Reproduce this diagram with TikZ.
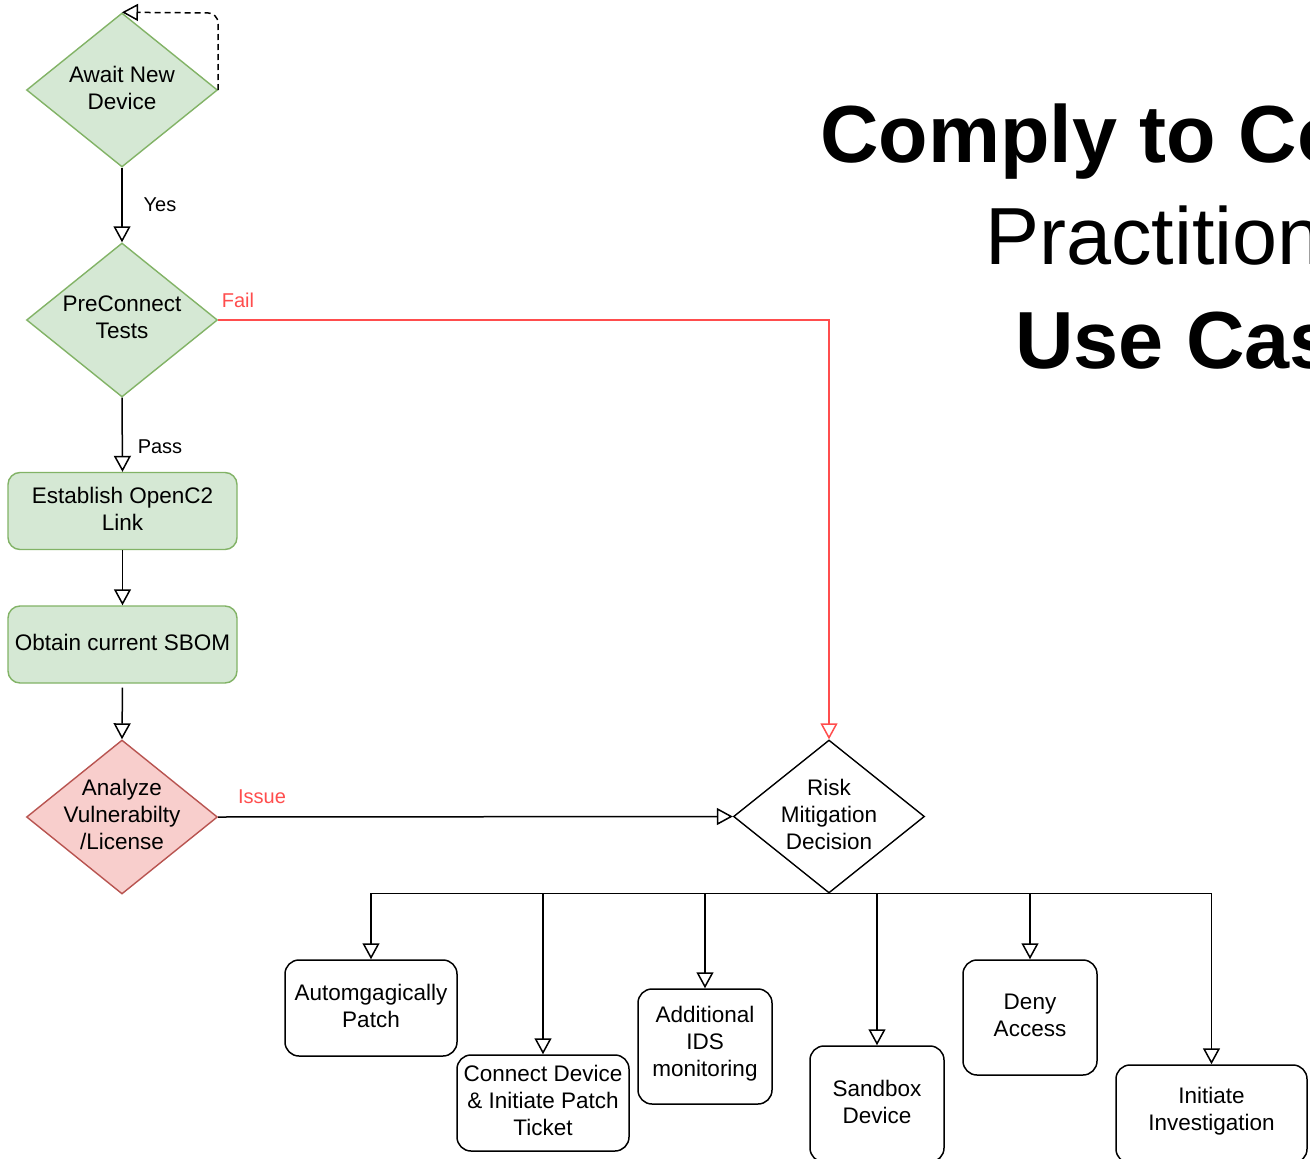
\documentclass[tikz,border=0pt]{standalone}
\usepackage{fontspec}
\setmainfont{Liberation Sans}
\usetikzlibrary{arrows.meta,shapes.geometric}
\definecolor{gfill}{HTML}{D5E8D4}
\definecolor{gline}{HTML}{82B366}
\definecolor{rfill}{HTML}{F8CECC}
\definecolor{rline}{HTML}{B85450}
\definecolor{failred}{HTML}{FF4D4D}
\tikzset{
  flow/.style={line width=1.5pt, -{Triangle[open,length=16pt,width=17pt]}},
  dia/.style={diamond, draw, line width=1.4pt, minimum width=191pt, minimum height=154pt, inner sep=0pt},
  greendia/.style={dia, fill=gfill, draw=gline},
  reddia/.style={dia, fill=rfill, draw=rline},
  greenbox/.style={rectangle, rounded corners=12pt, draw=gline, fill=gfill, line width=1.4pt, minimum width=229pt, minimum height=77pt},
  actbox/.style={rectangle, rounded corners=14pt, draw, line width=1.5pt, fill=white},
  txt/.style={align=center, font=\fontsize{22.5}{27}\selectfont, inner sep=0pt, yshift=2.5pt},
  lbl/.style={font=\fontsize{20}{24}\selectfont, inner sep=0pt},
}
\begin{document}
\begin{tikzpicture}[x=1pt, y=-1pt]
\useasboundingbox (0,0) rectangle (1310,1159);
\clip (0,0) rectangle (1310,1159);
\fill[white] (0,0) rectangle (1310,1159);

% title, running off the right-hand edge
\node[anchor=base west, inner sep=0pt, font=\fontsize{81}{81}\selectfont\bfseries] (t1) at (820,162) {Comply to Connect};
\node[anchor=base west, inner sep=0pt, font=\fontsize{81}{81}\selectfont] (t2) at (985,264) {Practitioner};
\node[anchor=base west, inner sep=0pt, font=\fontsize{81}{81}\selectfont\bfseries] (t3) at (1015,368) {Use Case};

% main line of the flow
\node[greendia] (aw) at (122,90) {};
\node[txt] at (aw) {Await New\\Device};
\node[greendia] (pc) at (122,320) {};
\node[txt] at (pc) {PreConnect\\Tests};
\node[greenbox] (ol) at (122.5,511) {};
\node[txt] at (ol) {Establish OpenC2\\Link};
\node[greenbox] (sb) at (122.5,644.5) {};
\node[txt] at (sb) {Obtain current SBOM};
\node[reddia] (an) at (122,817) {};
\node[txt] at (an) {Analyze\\Vulnerabilty\\/License};
\node[dia, fill=white, minimum height=153pt] (rk) at (829,816.5) {};
\node[txt] at (rk) {Risk\\Mitigation\\Decision};

% mitigation actions
\node[actbox, minimum width=172pt, minimum height=96pt] (ap) at (371,1008) {};
\node[txt] at (ap) {Automgagically\\Patch};
\node[actbox, minimum width=172pt, minimum height=96pt] (cd) at (543,1103) {};
\node[txt] at (cd) {Connect Device\\\& Initiate Patch\\Ticket};
\node[actbox, minimum width=134pt, minimum height=115pt] (ids) at (705,1046.5) {};
\node[txt] at (ids) {Additional\\IDS\\monitoring};
\node[actbox, minimum width=134pt, minimum height=116pt] (sd) at (877,1104) {};
\node[txt] at (sd) {Sandbox\\Device};
\node[actbox, minimum width=134pt, minimum height=115pt] (da) at (1030,1017.5) {};
\node[txt] at (da) {Deny\\Access};
\node[actbox, minimum width=191pt, minimum height=98pt] (ii) at (1211.5,1114) {};
\node[txt] at (ii) {Initiate\\Investigation};

% connectors
\draw[flow, dashed, dash pattern=on 6pt off 4pt, rounded corners=10pt] (aw.east) -- (218,13) -- (aw.north);
\draw[flow] (aw.south) -- (pc.north);
\node[lbl] (yes) at (160,205) {Yes};
\draw[flow] (pc.south) -- (ol.north);
\node[lbl] (pass) at (160,447) {Pass};
\draw[flow] (ol.south) -- (sb.north);
\draw[flow, shorten <=4pt] (sb.south) -- (an.north);
\draw[flow, draw=failred] (pc.east) -| (rk.north);
\node[lbl, text=failred] (fail) at (238,300) {Fail};
\draw[flow] (an.east) -- (rk.west);
\node[lbl, text=failred] (issue) at (262,797) {Issue};

\draw[flow] (rk.south) -| (ap.north);
\draw[flow] (rk.south) -| (cd.north);
\draw[flow] (rk.south) -| (ids.north);
\draw[flow] (rk.south) -| (sd.north);
\draw[flow] (rk.south) -| (da.north);
\draw[flow] (rk.south) -| (ii.north);
\end{tikzpicture}
\end{document}
